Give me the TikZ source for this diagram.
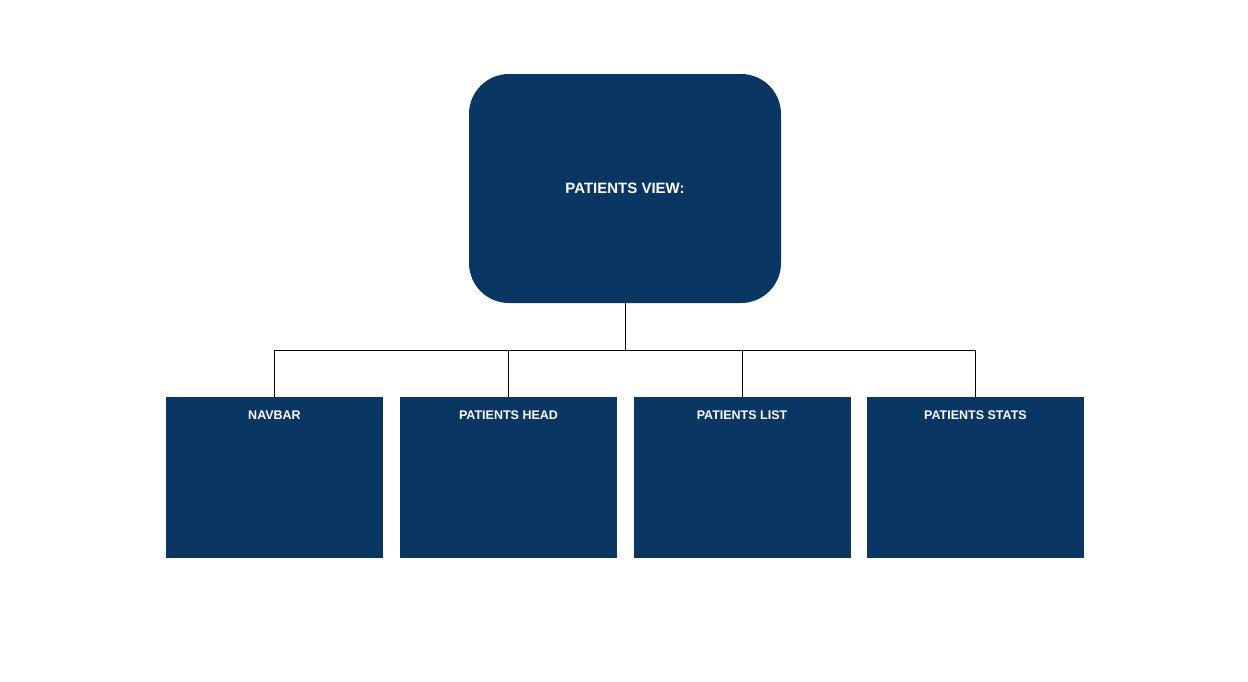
\documentclass[tikz,border=0pt]{standalone}
\usepackage{fontspec}
\setmainfont{Liberation Sans}
\usetikzlibrary{positioning}
\definecolor{navy}{HTML}{093663}

\begin{document}
\begin{tikzpicture}[
    x=1pt, y=-1pt,
    topbox/.style={fill=navy, rounded corners=40pt, minimum width=312pt, minimum height=229pt, text=white, font=\fontsize{15}{18}\selectfont\bfseries},
    part/.style={fill=navy, minimum width=217pt, minimum height=161pt, inner sep=0pt},
    tag/.style={anchor=north, yshift=-10pt, text height=9pt, text depth=2pt, text=white, font=\fontsize{12.5}{15}\selectfont\bfseries},
    wire/.style={draw=black, line width=0.8pt},
]
\useasboundingbox (0,0) rectangle (1248,681);

% Top view
\node[topbox] (view) at (625,188.5) {PATIENTS VIEW:};
\coordinate (bus) at (625,350);

% Components
\node[part, label={[tag]north:NAVBAR}] (navbar) at (274.5,477.5) {};
\node[part, label={[tag]north:PATIENTS HEAD}] (head) at (508.5,477.5) {};
\node[part, label={[tag]north:PATIENTS LIST}] (list) at (742,477.5) {};
\node[part, label={[tag]north:PATIENTS STATS}] (stats) at (975.5,477.5) {};

% Connectors
\draw[wire] (view.south) -- (bus);
\foreach \n in {navbar,head,list,stats}
    \draw[wire] (bus) -| (\n.north);
\end{tikzpicture}
\end{document}
